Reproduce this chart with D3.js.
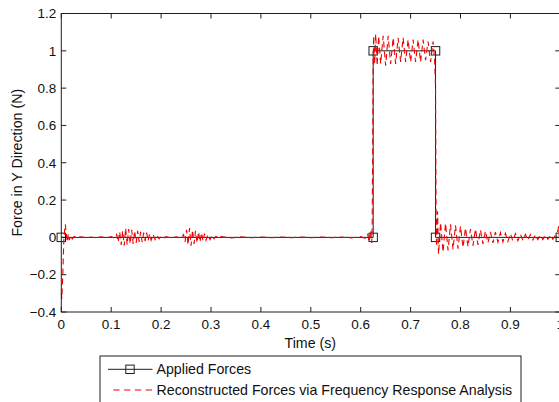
<!DOCTYPE html>
<html>
<head>
<meta charset="utf-8">
<script src="https://cdn.jsdelivr.net/npm/d3@7"></script>
<style>
  html, body { margin: 0; padding: 0; background: #fff; }
  svg { display: block; }
</style>
</head>
<body>
<div id="chart"></div>
<script>
// Applied step force vs. force reconstructed via FRA
const xTicks = [0, 0.1, 0.2, 0.3, 0.4, 0.5, 0.6, 0.7, 0.8, 0.9, 1];
const yTicks = [-0.4, -0.2, 0, 0.2, 0.4, 0.6, 0.8, 1, 1.2];

const appliedT = [0, 0.625, 0.625, 0.75, 0.75, 1];
const appliedF = [0, 0, 1, 1, 0, 0];

// reconstructed force, [time, force]
const reconOnset = [
  [0.000, -0.30], [0.001, -0.33], [0.003, -0.20], [0.005, -0.02], [0.007, 0.05],
  [0.008, 0.07], [0.010, 0.02], [0.012, -0.025], [0.014, 0.02], [0.016, -0.015],
  [0.019, 0.01], [0.022, -0.008], [0.026, 0.005], [0.030, 0.0],
  [0.04, 0.003], [0.05, -0.003], [0.06, 0.002], [0.07, -0.003], [0.08, 0.003],
  [0.09, -0.002], [0.10, 0.004], [0.108, -0.006],
];
const reconBurst1 = [
  [0.111, 0.015], [0.114, -0.025], [0.117, 0.03], [0.120, -0.04], [0.123, 0.035],
  [0.126, -0.045], [0.129, 0.05], [0.132, -0.04], [0.135, 0.045], [0.138, -0.035],
  [0.141, 0.04], [0.144, -0.035], [0.147, 0.035], [0.150, -0.03], [0.153, 0.035],
  [0.156, -0.025], [0.159, 0.03], [0.162, -0.025], [0.165, 0.025], [0.168, -0.02],
  [0.171, 0.025], [0.174, -0.018], [0.177, 0.02], [0.180, -0.015], [0.184, 0.015],
  [0.188, -0.012], [0.192, 0.01], [0.196, -0.008], [0.200, 0.006],
  [0.205, -0.004], [0.21, 0.004], [0.22, -0.003], [0.23, 0.003], [0.24, -0.004],
];
const reconBurst2 = [
  [0.245, 0.015], [0.248, -0.025], [0.251, 0.04], [0.254, -0.04], [0.257, 0.05],
  [0.260, -0.045], [0.263, 0.04], [0.266, -0.035], [0.269, 0.035], [0.272, -0.03],
  [0.275, 0.03], [0.278, -0.025], [0.281, 0.025], [0.284, -0.02], [0.287, 0.02],
  [0.290, -0.015], [0.294, 0.015], [0.298, -0.012], [0.302, 0.01], [0.306, -0.008],
  [0.310, 0.006], [0.315, -0.005],
  [0.32, 0.004], [0.34, -0.003], [0.36, 0.003], [0.38, -0.002], [0.40, 0.002],
  [0.42, -0.002], [0.44, 0.002], [0.46, -0.002], [0.48, 0.002], [0.50, -0.002],
  [0.52, 0.002], [0.54, -0.002], [0.56, 0.002], [0.58, -0.003], [0.60, 0.004],
  [0.61, -0.006],
];
const reconPulse = [
  [0.614, 0.015], [0.617, -0.025], [0.620, 0.035], [0.622, -0.03], [0.623, 0.06],
  [0.624, 0.45], [0.625, 0.95], [0.626, 1.08], [0.628, 0.93], [0.630, 1.09],
  [0.633, 0.92], [0.636, 1.08], [0.640, 0.93], [0.645, 1.08], [0.650, 0.92],
  [0.655, 1.08], [0.660, 0.93], [0.665, 1.07], [0.670, 0.93], [0.675, 1.07],
  [0.680, 0.94], [0.685, 1.07], [0.690, 0.94], [0.695, 1.06], [0.700, 0.94],
  [0.705, 1.06], [0.710, 0.94], [0.715, 1.06], [0.720, 0.94], [0.725, 1.06],
  [0.730, 0.95], [0.735, 1.05], [0.740, 0.94], [0.745, 1.05], [0.748, 0.96],
  [0.750, 0.80], [0.751, 0.15], [0.752, -0.05], [0.754, 0.14], [0.756, -0.09],
];
const reconRing = [
  [0.760, 0.08], [0.765, -0.08], [0.770, 0.075], [0.775, -0.07], [0.780, 0.07],
  [0.785, -0.065], [0.790, 0.065], [0.795, -0.06], [0.800, 0.06], [0.805, -0.055],
  [0.810, 0.05], [0.815, -0.05], [0.820, 0.045], [0.825, -0.045], [0.830, 0.045],
  [0.835, -0.04], [0.840, 0.04], [0.845, -0.035], [0.850, 0.035], [0.855, -0.03],
  [0.860, 0.03], [0.865, -0.03], [0.870, 0.028], [0.875, -0.025], [0.880, 0.025],
  [0.885, -0.025], [0.890, 0.022], [0.895, -0.022], [0.900, 0.02], [0.905, -0.02],
  [0.910, 0.02], [0.915, -0.018], [0.920, 0.018], [0.925, -0.016], [0.930, 0.016],
  [0.935, -0.015], [0.940, 0.015], [0.945, -0.014], [0.950, 0.014], [0.955, -0.012],
  [0.960, 0.012], [0.965, -0.012], [0.970, 0.012], [0.975, -0.01], [0.980, 0.01],
  [0.985, -0.01], [0.990, 0.01], [0.994, 0.025], [0.997, 0.06], [0.999, -0.05],
  [1.000, -0.25],
];

const legendLabels = ["Applied Forces", "Reconstructed Forces via Frequency Response Analysis"];

(() => {
  const W = 559, H = 402;
  const ML = 61.3, MR = 560.3, TOP = 13.5, BOT = 312;
  const FONT = "'Liberation Sans', Arial, sans-serif";
  const AX = "#1e1e1e", RED = "#f00000";

  const x = d3.scaleLinear().domain([0, 1]).range([ML, MR]);
  const y = d3.scaleLinear().domain([-0.4, 1.2]).range([BOT, TOP]);

  const svg = d3.select("#chart").append("svg")
    .attr("width", W).attr("height", H)
    .attr("viewBox", `0 0 ${W} ${H}`);

  // data
  const applied = appliedT.map((t, i) => ({ t, f: appliedF[i] }));
  const recon = [...reconOnset, ...reconBurst1, ...reconBurst2, ...reconPulse, ...reconRing]
    .map(([t, f]) => ({ t, f }));

  const line = d3.line().x(d => x(d.t)).y(d => y(d.f));

  svg.append("path").attr("d", line(applied))
    .attr("fill", "none").attr("stroke", AX).attr("stroke-width", 1);
  svg.append("g").selectAll("rect").data(applied).join("rect")
    .attr("x", d => x(d.t) - 4.2).attr("y", d => y(d.f) - 4.2)
    .attr("width", 8.4).attr("height", 8.4)
    .attr("fill", "none").attr("stroke", AX).attr("stroke-width", 1);

  svg.append("path").attr("d", line(recon))
    .attr("fill", "none").attr("stroke", RED).attr("stroke-width", 1.1)
    .attr("stroke-dasharray", "6 4");

  // axes box with inward ticks (matlab style)
  const ax = svg.append("g").attr("stroke", AX).attr("stroke-width", 1);
  ax.append("rect").attr("x", ML).attr("y", TOP)
    .attr("width", MR - ML).attr("height", BOT - TOP).attr("fill", "none");
  xTicks.forEach(v => {
    ax.append("line").attr("x1", x(v)).attr("x2", x(v)).attr("y1", BOT).attr("y2", BOT - 5);
    ax.append("line").attr("x1", x(v)).attr("x2", x(v)).attr("y1", TOP).attr("y2", TOP + 5);
  });
  yTicks.forEach(v => {
    ax.append("line").attr("x1", ML).attr("x2", ML + 5).attr("y1", y(v)).attr("y2", y(v));
    ax.append("line").attr("x1", MR).attr("x2", MR - 5).attr("y1", y(v)).attr("y2", y(v));
  });

  const lbl = `font:13.5px ${FONT};fill:#111`;
  const big = `font:14.2px ${FONT};fill:#111`;
  xTicks.forEach(v => {
    svg.append("text").attr("x", x(v)).attr("y", BOT + 16.5)
      .attr("text-anchor", "middle").attr("style", lbl)
      .text(d3.format("~g")(v));
  });
  yTicks.forEach(v => {
    svg.append("text").attr("x", ML - 5).attr("y", y(v) + 4.8)
      .attr("text-anchor", "end").attr("style", lbl)
      .text(d3.format("~g")(v));
  });

  svg.append("text").attr("x", (ML + MR) / 2 - 0.5).attr("y", BOT + 36)
    .attr("text-anchor", "middle").attr("style", big).text("Time (s)");
  svg.append("text")
    .attr("transform", `translate(22,${(TOP + BOT) / 2}) rotate(-90)`)
    .attr("text-anchor", "middle").attr("style", big)
    .text("Force in Y Direction (N)");

  // legend
  const lg = svg.append("g").attr("transform", "translate(100,356)");
  lg.append("rect").attr("width", 421).attr("height", 60)
    .attr("fill", "#fff").attr("stroke", AX).attr("stroke-width", 1);
  lg.append("line").attr("x1", 8).attr("x2", 52.5).attr("y1", 13.3).attr("y2", 13.3)
    .attr("stroke", AX);
  lg.append("rect").attr("x", 25.8).attr("y", 9.1).attr("width", 8.4).attr("height", 8.4)
    .attr("fill", "none").attr("stroke", AX);
  lg.append("line").attr("x1", 13.3).attr("x2", 52).attr("y1", 34).attr("y2", 34)
    .attr("stroke", RED).attr("stroke-dasharray", "6.3 4.5");
  legendLabels.forEach((s, i) => {
    lg.append("text").attr("x", 56.5).attr("y", 18 + i * 21)
      .attr("style", big).text(s);
  });
})();
</script>
</body>
</html>
